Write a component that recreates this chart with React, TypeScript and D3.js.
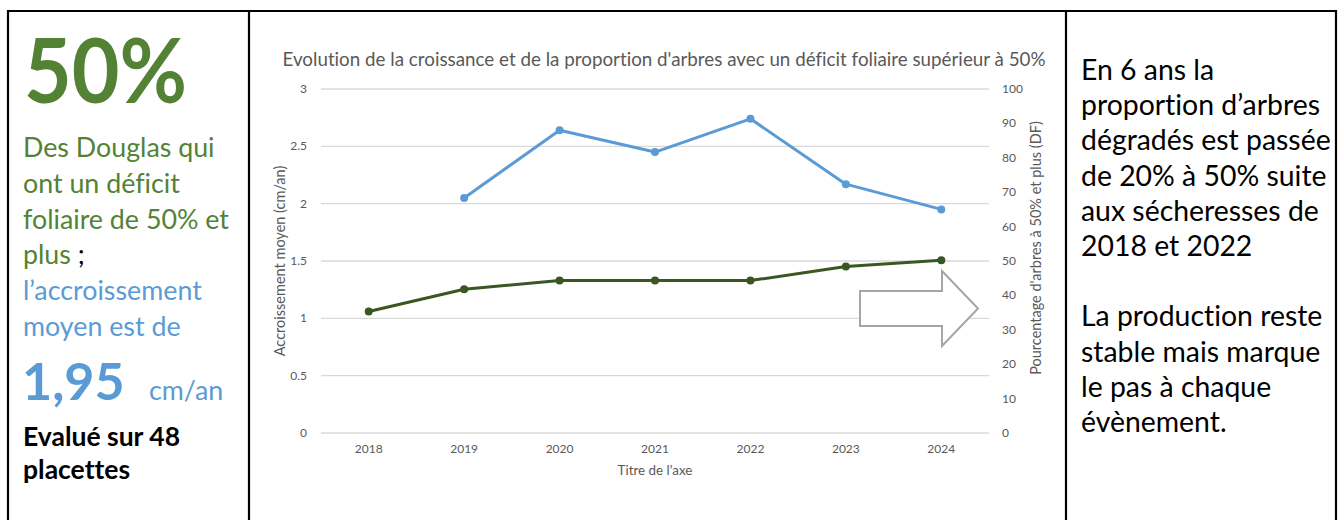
import React, { useEffect, useRef } from 'react';
import * as d3 from 'd3';

// values
const years = ['2018', '2019', '2020', '2021', '2022', '2023', '2024'];
const growth = [null, 2.05, 2.64, 2.45, 2.74, 2.17, 1.95]; // cm/an, left axis
const deficitShare = [35.3, 41.8, 44.3, 44.3, 44.3, 48.4, 50.2]; // %, right axis
const leftTicks = [0, 0.5, 1, 1.5, 2, 2.5, 3];
const rightTicks = [0, 10, 20, 30, 40, 50, 60, 70, 80, 90, 100];

const chartTitle = "Evolution de la croissance et de la proportion d'arbres avec un déficit foliaire supérieur à 50%";
const rightNotes = [
  'En 6 ans la',
  'proportion d’arbres',
  'dégradés est passée',
  'de 20% à 50% suite',
  'aux sécheresses de',
  '2018 et 2022',
  '',
  'La production reste',
  'stable mais marque',
  'le pas à chaque',
  'évènement.',
];

const GREEN = '#548235';
const DARK_GREEN = '#385723';
const BLUE = '#5B9BD5';
const GREY = '#595959';
const FONT = 'Lato, "Open Sans", sans-serif';

const App = () => {
  const svgRef = useRef<SVGSVGElement>(null);

  useEffect(() => {
    const width = 1343;
    const height = 520;
    const svg = d3.select(svgRef.current).attr('width', width).attr('height', height)
      .style('font-variant-ligatures', 'none');
    svg.selectAll('*').remove();

    // table frame
    const frame = svg.append('g').attr('stroke', '#000').attr('stroke-width', 2.2).attr('fill', 'none');
    frame.append('line').attr('x1', 8).attr('x2', 1336).attr('y1', 11).attr('y2', 11);
    [8, 249, 1066, 1336].forEach((x) => {
      frame.append('line').attr('x1', x).attr('x2', x).attr('y1', 10).attr('y2', 520);
    });

    // left panel
    const left = svg.append('g').style('font-family', FONT);
    left.append('text').attr('x', 24).attr('y', 103).attr('fill', GREEN)
      .style('font-size', '90px').style('font-weight', 700).attr('textLength', 163)
      .attr('lengthAdjust', 'spacingAndGlyphs').text('50%');

    const leftLines: [string, string][][] = [
      [['Des Douglas qui', GREEN]],
      [['ont un déficit', GREEN]],
      [['foliaire de 50% et', GREEN]],
      [['plus', GREEN], [' ;', '#000']],
      [['l’accroissement', BLUE]],
      [['moyen est de', BLUE]],
    ];
    leftLines.forEach((parts, i) => {
      const t = left.append('text').attr('x', 23).attr('y', 157 + i * 35.8).style('font-size', '26.8px');
      parts.forEach(([s, c]) => t.append('tspan').attr('fill', c).text(s));
    });
    left.append('text').attr('x', 22).attr('y', 400).attr('fill', BLUE)
      .style('font-size', '52px').style('font-weight', 700).text('1,95');
    left.append('text').attr('x', 149).attr('y', 400).attr('fill', BLUE)
      .style('font-size', '26.8px').text('cm/an');
    ['Evalué sur 48', 'placettes'].forEach((s, i) => {
      left.append('text').attr('x', 23).attr('y', 446 + i * 33).attr('fill', '#000')
        .style('font-size', '26.5px').style('font-weight', 700).text(s);
    });

    // chart
    const plot = { left: 321, right: 989, top: 89, bottom: 433 };
    const x = d3.scaleBand().domain(years).range([plot.left, plot.right]);
    const xc = (d: string) => (x(d) as number) + x.bandwidth() / 2;
    const yL = d3.scaleLinear().domain([0, 3]).range([plot.bottom, plot.top]);
    const yR = d3.scaleLinear().domain([0, 100]).range([plot.bottom, plot.top]);

    const chart = svg.append('g').style('font-family', FONT);
    chart.append('text').attr('x', 664).attr('y', 66).attr('text-anchor', 'middle')
      .attr('fill', GREY).style('font-size', '18.8px').text(chartTitle);

    chart.append('g').selectAll('line').data(leftTicks).join('line')
      .attr('x1', plot.left).attr('x2', plot.right)
      .attr('y1', (d) => yL(d)).attr('y2', (d) => yL(d))
      .attr('stroke', '#D9D9D9').attr('stroke-width', 1.3);

    chart.append('g').selectAll('text').data(leftTicks).join('text')
      .attr('x', 307).attr('y', (d) => yL(d) + 4).attr('text-anchor', 'end')
      .attr('fill', GREY).style('font-size', '12px').text((d) => String(d));

    chart.append('g').selectAll('text').data(rightTicks).join('text')
      .attr('x', 1002).attr('y', (d) => yR(d) + 4)
      .attr('fill', GREY).style('font-size', '12px').text((d) => String(d));

    chart.append('g').selectAll('text').data(years).join('text')
      .attr('x', (d) => xc(d)).attr('y', 453).attr('text-anchor', 'middle')
      .attr('fill', GREY).style('font-size', '12px').text((d) => d);

    chart.append('text').attr('x', 655).attr('y', 475).attr('text-anchor', 'middle')
      .attr('fill', GREY).style('font-size', '13.4px').text("Titre de l'axe");

    chart.append('text').attr('transform', `translate(285, ${(plot.top + plot.bottom) / 2}) rotate(-90)`)
      .attr('text-anchor', 'middle').attr('fill', GREY).style('font-size', '14.5px')
      .text('Accroissement moyen (cm/an)');
    chart.append('text').attr('transform', `translate(1041, 248) rotate(-90)`)
      .attr('text-anchor', 'middle').attr('fill', GREY).style('font-size', '14.5px')
      .text("Pourcentage d'arbres à 50% et plus (DF)");

    // growth series (blue)
    const growthPts = years.map((yr, i) => ({ yr, v: growth[i] })).filter((d) => d.v != null) as { yr: string; v: number }[];
    const lineL = d3.line<{ yr: string; v: number }>().x((d) => xc(d.yr)).y((d) => yL(d.v));
    chart.append('path').datum(growthPts).attr('d', lineL).attr('fill', 'none')
      .attr('stroke', BLUE).attr('stroke-width', 3).attr('stroke-linejoin', 'round');
    chart.append('g').selectAll('circle').data(growthPts).join('circle')
      .attr('cx', (d) => xc(d.yr)).attr('cy', (d) => yL(d.v)).attr('r', 4).attr('fill', BLUE);

    // share series (dark green)
    const sharePts = years.map((yr, i) => ({ yr, v: deficitShare[i] }));
    const lineR = d3.line<{ yr: string; v: number }>().x((d) => xc(d.yr)).y((d) => yR(d.v));
    chart.append('path').datum(sharePts).attr('d', lineR).attr('fill', 'none')
      .attr('stroke', DARK_GREEN).attr('stroke-width', 3).attr('stroke-linejoin', 'round');
    chart.append('g').selectAll('circle').data(sharePts).join('circle')
      .attr('cx', (d) => xc(d.yr)).attr('cy', (d) => yR(d.v)).attr('r', 4).attr('fill', DARK_GREEN);

    // outlined arrow annotation
    const arrow = [[860, 291], [942, 291], [942, 271], [978, 308.5], [942, 346], [942, 326], [860, 326]];
    chart.append('path').attr('d', d3.line()(arrow as [number, number][]) + 'Z')
      .attr('fill', '#fff').attr('stroke', '#A5A5A5').attr('stroke-width', 2);

    // right panel
    const right = svg.append('g').style('font-family', FONT);
    right.selectAll('text').data(rightNotes).join('text')
      .attr('x', 1081).attr('y', (_, i) => 80 + i * 35.2)
      .attr('fill', '#000').style('font-size', '28.4px').text((d) => d);
  }, []);

  return <svg ref={svgRef} style={{ position: 'absolute', left: 0, top: 0 }}></svg>;
};

export default App;
